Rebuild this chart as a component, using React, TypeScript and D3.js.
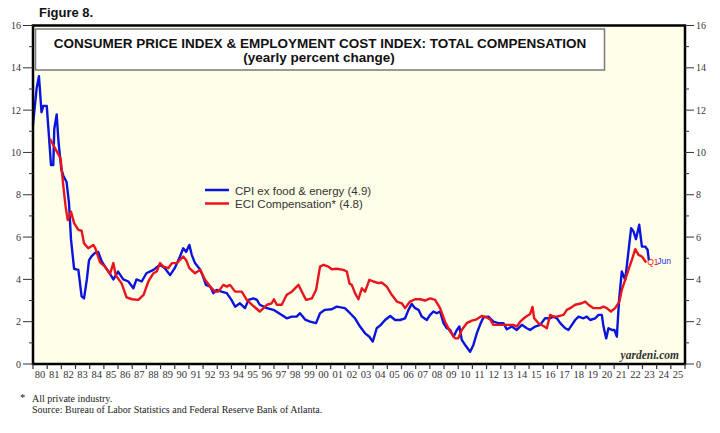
import React from "react"
import * as d3 from "d3"

// CPI ex food & energy, yearly % change
const cpiDates = [
  1980.0, 1980.1, 1980.26, 1980.42, 1980.6, 1980.73, 1980.97, 1981.08, 1981.27, 1981.43, 1981.5, 1981.67, 1981.8,
  1982.0, 1982.14, 1982.37, 1982.54, 1982.68, 1982.9, 1983.2, 1983.43, 1983.6, 1983.8, 1983.95, 1984.14, 1984.38,
  1984.6, 1984.85, 1985.08, 1985.4, 1985.67, 1986.0, 1986.37, 1986.73, 1987.08, 1987.3, 1987.67, 1988.0, 1988.5,
  1988.96, 1989.3, 1989.67, 1990.0, 1990.37, 1990.6, 1990.8, 1991.03, 1991.2, 1991.43, 1991.8, 1992.0, 1992.2,
  1992.5, 1992.73, 1992.96, 1993.3, 1993.67, 1994.0, 1994.26, 1994.6, 1994.96, 1995.2, 1995.55, 1995.8, 1996.0,
  1996.5, 1996.96, 1997.55, 1997.9, 1998.26, 1998.6, 1998.84, 1999.2, 1999.55, 1999.97, 2000.25, 2000.6, 2001.08,
  2001.43, 2002.0, 2002.37, 2002.72, 2003.07, 2003.43, 2003.73, 2003.97, 2004.25, 2004.54, 2004.84, 2005.2,
  2005.55, 2005.9, 2006.25, 2006.49, 2006.72, 2006.96, 2007.2, 2007.43, 2007.78, 2008.02, 2008.25, 2008.49,
  2008.72, 2008.96, 2009.2, 2009.43, 2009.67, 2009.9, 2010.08, 2010.25, 2010.49, 2010.84, 2011.07, 2011.31,
  2011.54, 2011.78, 2012.13, 2012.48, 2012.84, 2013.19, 2013.43, 2013.78, 2014.13, 2014.49, 2014.84, 2015.07,
  2015.43, 2015.78, 2016.13, 2016.49, 2016.72, 2016.96, 2017.2, 2017.55, 2017.78, 2018.02, 2018.25, 2018.49,
  2018.84, 2019.07, 2019.31, 2019.66, 2019.9, 2020.13, 2020.25, 2020.44, 2020.6, 2020.84, 2021.02, 2021.19,
  2021.35, 2021.54, 2021.78, 2021.97, 2022.2, 2022.37, 2022.54, 2022.77, 2022.96, 2023.19, 2023.36, 2023.45,
]
const cpiValues = [
  11.3, 12.0, 13.05, 13.6, 11.9, 12.2, 12.2, 11.2, 9.4, 9.4, 11.1, 11.8, 10.5,
  9.2, 8.9, 8.6, 7.6, 5.9, 4.5, 4.45, 3.2, 3.1, 4.0, 4.9, 5.1, 5.25,
  5.3, 4.85, 4.6, 4.3, 4.0, 4.37, 4.0, 3.9, 3.58, 4.0, 3.9, 4.29, 4.45,
  4.69, 4.53, 4.2, 4.53, 5.08, 5.47, 5.3, 5.63, 5.16, 4.77, 4.45, 4.13, 3.74,
  3.66, 3.35, 3.5, 3.42, 3.35, 3.03, 2.71, 2.87, 2.64, 3.03, 3.1, 3.03, 2.8,
  2.64, 2.56, 2.32, 2.16, 2.24, 2.24, 2.4, 2.1, 2.0, 1.93, 2.4, 2.56, 2.59,
  2.71, 2.64, 2.4, 2.16, 1.77, 1.45, 1.29, 1.06, 1.69, 1.85, 2.08, 2.27,
  2.08, 2.08, 2.16, 2.56, 2.84, 2.64, 2.56, 2.24, 2.08, 2.32, 2.48, 2.4,
  2.48, 1.93, 1.69, 1.61, 1.29, 1.61, 1.77, 1.14, 0.9, 0.58, 0.9, 1.45,
  1.85, 2.21, 2.24, 2.0, 1.93, 1.93, 1.64, 1.77, 1.61, 1.85, 1.69, 1.61,
  1.77, 1.85, 2.16, 2.16, 2.24, 2.16, 1.93, 1.69, 1.61, 1.85, 2.08, 2.24,
  2.16, 2.24, 2.08, 2.16, 2.32, 2.32, 1.77, 1.21, 1.69, 1.61, 1.61, 1.29,
  3.03, 4.37, 3.98, 5.08, 6.42, 6.26, 5.9, 6.58, 5.55, 5.55, 5.4, 4.9,
]

// ECI total compensation, private industry, yearly % change
const eciDates = [
  1981.2, 1981.55, 1981.8, 1981.95, 1982.14, 1982.3, 1982.45, 1982.68, 1982.9, 1983.2, 1983.43, 1983.6, 1983.9,
  1984.26, 1984.4, 1984.73, 1985.08, 1985.43, 1985.67, 1985.84, 1986.26, 1986.6, 1987.0, 1987.43, 1987.8, 1988.14,
  1988.5, 1988.73, 1988.96, 1989.2, 1989.55, 1989.8, 1990.14, 1990.37, 1990.6, 1990.8, 1991.03, 1991.43, 1991.8,
  1992.14, 1992.5, 1992.84, 1993.08, 1993.43, 1993.67, 1993.9, 1994.26, 1994.73, 1995.08, 1995.55, 1996.0, 1996.5,
  1996.84, 1997.0, 1997.2, 1997.55, 1997.9, 1998.26, 1998.73, 1999.08, 1999.27, 1999.67, 1999.97, 2000.25, 2000.5,
  2000.84, 2001.08, 2001.43, 2001.9, 2002.14, 2002.33, 2002.49, 2002.72, 2002.96, 2003.2, 2003.43, 2003.73, 2004.02,
  2004.37, 2004.6, 2004.96, 2005.31, 2005.67, 2006.02, 2006.25, 2006.6, 2006.96, 2007.31, 2007.66, 2008.02, 2008.37,
  2008.72, 2009.07, 2009.43, 2009.78, 2010.0, 2010.25, 2010.6, 2010.96, 2011.3, 2011.66, 2012.0, 2012.25, 2012.48,
  2012.96, 2013.43, 2013.9, 2014.13, 2014.37, 2014.72, 2015.07, 2015.24, 2015.36, 2015.66, 2016.13, 2016.25, 2016.49,
  2016.72, 2016.96, 2017.43, 2017.66, 2017.9, 2018.25, 2018.72, 2018.96, 2019.19, 2019.54, 2020.02, 2020.25, 2020.48,
  2020.77, 2021.07, 2021.37, 2021.54, 2021.78, 2022.01, 2022.25, 2022.49, 2022.72, 2022.96, 2023.26,
]
const eciValues = [
  10.65, 10.2, 9.9, 9.7, 8.4, 7.45, 6.8, 7.2, 6.66, 6.34, 6.3, 5.7, 5.47,
  5.63, 5.47, 4.8, 4.6, 4.25, 4.77, 4.2, 3.8, 3.15, 3.06, 3.03, 3.27, 3.9,
  4.29, 4.37, 4.77, 4.6, 4.53, 4.77, 4.77, 4.92, 5.08, 4.92, 4.53, 4.29, 4.45,
  3.98, 3.66, 3.42, 3.42, 3.74, 3.66, 3.74, 3.42, 3.42, 3.03, 2.74, 2.48, 2.8,
  2.87, 3.06, 2.8, 2.8, 3.27, 3.42, 3.74, 3.27, 3.03, 3.1, 3.5, 4.6, 4.69,
  4.6, 4.48, 4.5, 4.45, 4.37, 3.8, 3.74, 3.35, 3.06, 3.58, 3.42, 3.98, 3.9,
  3.82, 3.85, 3.66, 3.27, 2.95, 2.87, 2.64, 2.95, 3.06, 3.06, 3.0, 3.1, 3.03,
  2.64, 2.0, 1.53, 1.21, 1.21, 1.61, 1.93, 2.05, 2.11, 2.27, 2.21, 2.11, 1.85,
  1.85, 1.85, 1.85, 1.77, 2.0, 2.21, 2.36, 2.7, 2.16, 1.93, 1.75, 1.69, 2.32,
  2.24, 2.24, 2.32, 2.56, 2.64, 2.8, 2.87, 2.95, 2.8, 2.64, 2.64, 2.71, 2.64,
  2.48, 2.64, 2.95, 3.5, 3.98, 4.45, 4.92, 5.43, 5.16, 5.08, 4.8,
]

const yearTicks = d3.range(1980, 2027)
const yearLabels = d3.range(1980, 2026)
const yMajor = [0, 2, 4, 6, 8, 10, 12, 14, 16]
const yMinor = [1, 3, 5, 7, 9, 11, 13, 15]

const legendItems = [
  { label: "CPI ex food & energy (4.9)", color: "#0a14dc" },
  { label: "ECI Compensation* (4.8)", color: "#e8141e" },
]

const sans = "'Liberation Sans', Arial, sans-serif"
const serif = "'Liberation Serif', 'Times New Roman', serif"

export default function App() {
  const width = 720
  const height = 433
  const left = 33
  const right = 685
  const top = 25.5
  const bottom = 364

  const x = d3.scaleLinear().domain([1980, 2026]).range([left, right])
  const y = d3.scaleLinear().domain([0, 16]).range([bottom, top])

  const line = d3
    .line<[number, number]>()
    .x((d) => x(d[0]))
    .y((d) => y(d[1]))

  const cpiPath = line(cpiDates.map((d, i) => [d, cpiValues[i]]) as [number, number][]) || ""
  const eciPath = line(eciDates.map((d, i) => [d, eciValues[i]]) as [number, number][]) || ""

  const lastCpi = cpiDates.length - 1
  const lastEci = eciDates.length - 1

  return (
    <svg
      width={width}
      height={height}
      style={{ position: "absolute", left: 0, top: 0, background: "#fff" }}
    >
      <text x={39} y={17} fontFamily={sans} fontWeight="bold" fontSize={13} fill="#111">
        Figure 8.
      </text>

      {/* plot background */}
      <rect x={left} y={top} width={right - left} height={bottom - top} fill="#fffee8" />

      {/* title box */}
      <rect x={35.5} y={29} width={569} height={41} fill="#fff" stroke="#7a7a7a" strokeWidth={1.5} />
      <text x={320} y={48} textAnchor="middle" fontFamily={sans} fontWeight="bold" fontSize={13.5} fill="#111">
        CONSUMER PRICE INDEX &amp; EMPLOYMENT COST INDEX: TOTAL COMPENSATION
      </text>
      <text x={319} y={62} textAnchor="middle" fontFamily={sans} fontWeight="bold" fontSize={13.5} fill="#111">
        (yearly percent change)
      </text>

      {/* series */}
      <path d={cpiPath} fill="none" stroke="#0a14dc" strokeWidth={2.4} strokeLinejoin="round" />
      <path d={eciPath} fill="none" stroke="#e8141e" strokeWidth={2.4} strokeLinejoin="round" />

      {/* end labels */}
      <text x={x(eciDates[lastEci]) + 1} y={y(eciValues[lastEci]) + 2.5} fontFamily={sans} fontSize={8.5} fill="#e8141e">
        Q1
      </text>
      <text x={x(cpiDates[lastCpi]) + 8.5} y={y(cpiValues[lastCpi]) + 4} fontFamily={sans} fontSize={8.5} fill="#2a2ae0">
        Jun
      </text>

      {/* legend */}
      {legendItems.map((item, i) => (
        <g key={item.label} transform={`translate(205, ${190 + i * 13.5})`}>
          <line x1={0} x2={24} y1={0} y2={0} stroke={item.color} strokeWidth={2.5} />
          <text x={30} y={4.5} fontFamily={sans} fontSize={11.5} fill="#333">
            {item.label}
          </text>
        </g>
      ))}

      <text x={679} y={359} textAnchor="end" fontFamily={serif} fontStyle="italic" fontWeight="bold" fontSize={11.5} fill="#333">
        yardeni.com
      </text>

      {/* frame */}
      <rect x={left} y={top} width={right - left} height={bottom - top} fill="none" stroke="#000" strokeWidth={2.5} />

      {/* y axes */}
      {yMajor.map((v) => (
        <g key={"maj" + v}>
          <line x1={left - 10} x2={left} y1={y(v)} y2={y(v)} stroke="#333" strokeWidth={1} />
          <line x1={right} x2={right + 9} y1={y(v)} y2={y(v)} stroke="#333" strokeWidth={1} />
          <text x={left - 12} y={y(v) + 3.5} textAnchor="end" fontFamily={serif} fontSize={10} fill="#333">
            {v}
          </text>
          <text x={right + 11} y={y(v) + 3.5} fontFamily={serif} fontSize={10} fill="#333">
            {v}
          </text>
        </g>
      ))}
      {yMinor.map((v) => (
        <g key={"min" + v}>
          <line x1={left - 4} x2={left} y1={y(v)} y2={y(v)} stroke="#333" strokeWidth={1} />
          <line x1={right} x2={right + 4} y1={y(v)} y2={y(v)} stroke="#333" strokeWidth={1} />
        </g>
      ))}

      {/* x axis */}
      {yearTicks.map((yr) => (
        <line key={"t" + yr} x1={x(yr)} x2={x(yr)} y1={bottom} y2={bottom + 5} stroke="#333" strokeWidth={1.2} />
      ))}
      {yearLabels.map((yr) => (
        <text key={"l" + yr} x={x(yr + 0.5)} y={378} textAnchor="middle" fontFamily={serif} fontSize={10.5} fill="#333">
          {String(yr % 100).padStart(2, "0")}
        </text>
      ))}

      {/* footnote */}
      <text x={20} y={401} fontFamily={serif} fontSize={10.5} fill="#222">*</text>
      <text x={32} y={402} fontFamily={serif} fontSize={10} fill="#222">
        All private industry.
      </text>
      <text x={32} y={413} fontFamily={serif} fontSize={10} fill="#222">
        Source: Bureau of Labor Statistics and Federal Reserve Bank of Atlanta.
      </text>
    </svg>
  )
}
